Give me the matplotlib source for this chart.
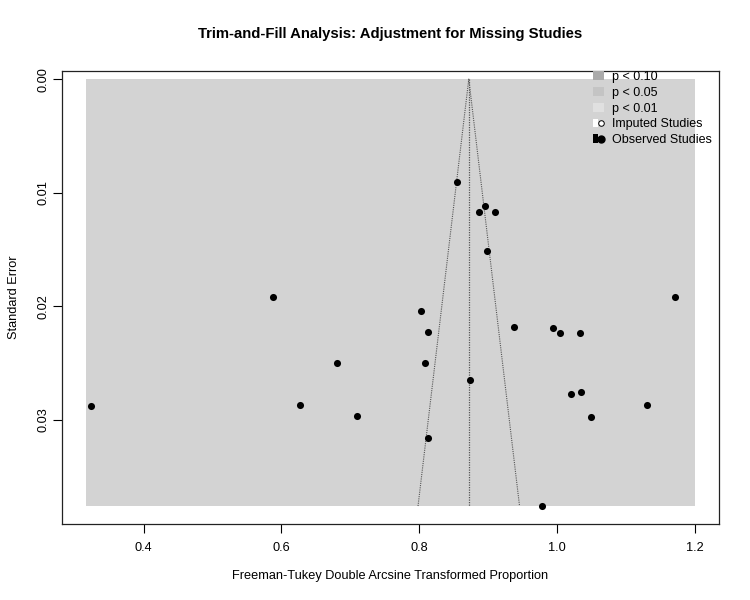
"""
Trim-and-fill funnel plot (Freeman-Tukey transformed proportions)
"""
import matplotlib
matplotlib.use('Agg')
import matplotlib.pyplot as plt
from matplotlib.patches import Patch, Rectangle
from matplotlib.lines import Line2D
from matplotlib.legend_handler import HandlerTuple

# ==== data ==== #
obsEffect = [0.324, 0.587, 0.627, 0.681, 0.709, 0.802, 0.808, 0.813, 0.813,
             0.855, 0.874, 0.887, 0.896, 0.898, 0.910, 0.937, 0.979, 0.995,
             1.004, 1.021, 1.033, 1.035, 1.049, 1.131, 1.171]
obsSE = [0.0288, 0.0192, 0.0287, 0.0250, 0.0297, 0.0204, 0.0250, 0.0223, 0.0316,
         0.0091, 0.0265, 0.0117, 0.0112, 0.0151, 0.0117, 0.0218, 0.0376, 0.0219,
         0.0224, 0.0277, 0.0224, 0.0276, 0.0298, 0.0287, 0.0192]
pooledEstimate = 0.872
xRange = [0.3163, 1.2]
seMax = 0.0376
legendLabels = ['p < 0.10', 'p < 0.05', 'p < 0.01', 'Imputed Studies', 'Observed Studies']

# ==== style ==== #
FONT = ['Liberation Sans', 'DejaVu Sans']
GREY_BG = '#d3d3d3'
LINE_COL = '#555555'


def drawFunnel():
    plt.rcParams['font.family'] = FONT
    fig = plt.figure(figsize=(7.5, 6), dpi=100)
    ax = fig.add_axes([0.0823, 0.1275, 0.8764, 0.7545])

    # grey region
    ax.add_patch(Rectangle((xRange[0], 0), xRange[1] - xRange[0], seMax,
                           facecolor=GREY_BG, edgecolor='none', zorder=0))

    # funnel lines
    half = 1.96 * seMax
    ax.plot([pooledEstimate, pooledEstimate], [0, seMax], color=LINE_COL,
            linestyle=(0, (1, 1)), linewidth=0.9, zorder=1)
    ax.plot([pooledEstimate - half, pooledEstimate, pooledEstimate + half],
            [seMax, 0, seMax], color=LINE_COL, linestyle=(0, (1, 1)),
            linewidth=0.8, zorder=1)

    ax.scatter(obsEffect, obsSE, s=26, color='black', zorder=3, linewidths=0)

    pad = 0.04 * (xRange[1] - xRange[0])
    ax.set_xlim(xRange[0] - pad, xRange[1] + pad)
    ax.set_ylim(seMax + 0.00154, -0.00073)

    ax.set_xticks([0.4, 0.6, 0.8, 1.0, 1.2])
    ax.set_xticklabels(['0.4', '0.6', '0.8', '1.0', '1.2'])
    ax.set_yticks([0.00, 0.01, 0.02, 0.03])
    ax.set_yticklabels(['0.00', '0.01', '0.02', '0.03'], rotation=90, va='center')
    ax.tick_params(direction='out', length=6.5, width=0.8, labelsize=9.2, pad=7)
    ax.tick_params(axis='y', pad=2)
    for sp in ax.spines.values():
        sp.set_linewidth(0.9)
        sp.set_color('#222222')

    ax.set_xlabel('Freeman-Tukey Double Arcsine Transformed Proportion', fontsize=9.2, labelpad=11)
    ax.set_ylabel('Standard Error', fontsize=9.2, labelpad=13)
    fig.suptitle('Trim-and-Fill Analysis: Adjustment for Missing Studies',
                 fontsize=10.75, fontweight='bold', x=0.52, y=0.955)

    # legend
    handles = [
        Patch(facecolor='#aaaaaa', edgecolor='none'),
        Patch(facecolor='#c4c4c4', edgecolor='none'),
        Patch(facecolor='#e0e0e0', edgecolor='none'),
        (Patch(facecolor='white', edgecolor='none'),
         Line2D([], [], marker='o', markersize=4, markerfacecolor='white',
                markeredgecolor='black', markeredgewidth=0.7, linestyle='none')),
        (Patch(facecolor='black', edgecolor='none'),
         Line2D([], [], marker='o', markersize=5, color='black', linestyle='none')),
    ]
    fig.legend(handles, legendLabels, loc='upper left',
               bbox_to_anchor=(0.782, 0.892), frameon=False, fontsize=9,
               handlelength=0.9, handleheight=0.7, handletextpad=0.6,
               labelspacing=0.3, borderpad=0,
               handler_map={tuple: HandlerTuple(ndivide=None, pad=0)})

    fig.savefig('out.png', dpi=100)


if __name__ == '__main__':
    drawFunnel()
